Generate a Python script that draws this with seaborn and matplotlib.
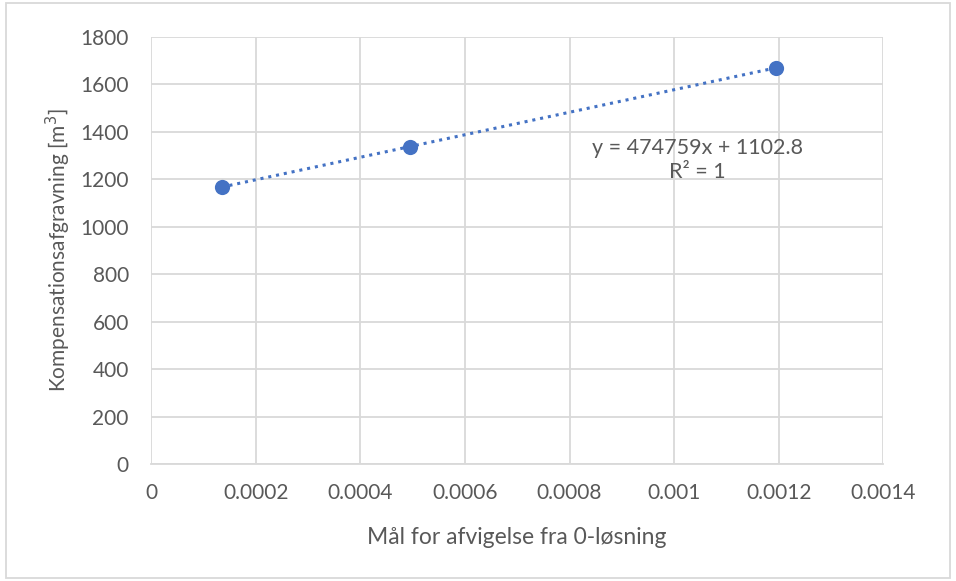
import numpy as np
import pandas as pd
import matplotlib
matplotlib.use("Agg")
import matplotlib.pyplot as plt
import seaborn as sns

# Data
afvigelse = [0.000135, 0.000495, 0.001195]
kompensation = [1167, 1338, 1670]
x_ticks = [0, 0.0002, 0.0004, 0.0006, 0.0008, 0.001, 0.0012, 0.0014]
x_tick_labels = ["0", "0.0002", "0.0004", "0.0006", "0.0008", "0.001", "0.0012", "0.0014"]
y_ticks = [0, 200, 400, 600, 800, 1000, 1200, 1400, 1600, 1800]

df = pd.DataFrame({"x": afvigelse, "y": kompensation})

sns.set_theme(style="whitegrid")
plt.rcParams["font.family"] = ["Lato", "DejaVu Sans"]

blue = "#4472C4"
grid_col = "#D9D9D9"
text_col = "#595959"

fig = plt.figure(figsize=(9.56, 5.81), dpi=100)
ax = fig.add_axes([0.158, 0.2014, 0.766, 0.735])

sns.regplot(data=df, x="x", y="y", ax=ax, ci=None, truncate=True,
            scatter_kws={"s": 120, "color": blue, "alpha": 1, "zorder": 4, "linewidths": 0},
            line_kws={"color": blue, "linestyle": (0, (1, 1.6)), "linewidth": 2.2, "zorder": 3})

ax.set_xlim(0, 0.0014)
ax.set_ylim(0, 1800)
ax.set_xticks(x_ticks)
ax.set_xticklabels(x_tick_labels)
ax.set_yticks(y_ticks)
ax.tick_params(axis="both", labelsize=15, colors=text_col, length=0)
ax.tick_params(axis="x", pad=14)
ax.tick_params(axis="y", pad=16)
ax.grid(True, color=grid_col, linewidth=1.3)
for side in ["top", "right", "left"]:
    ax.spines[side].set_visible(False)
ax.spines["bottom"].set_color(grid_col)
ax.spines["bottom"].set_linewidth(1.3)

ax.set_xlabel("Mål for afvigelse fra 0-løsning", fontsize=16.5, color=text_col, labelpad=17)
ax.set_ylabel("Kompensationsafgravning [m$^3$]", fontsize=15, color=text_col, labelpad=5)

ax.text(0.001044, 1332, "y = 474759x + 1102.8", ha="center", va="center",
        fontsize=15.5, color=text_col)
ax.text(0.001044, 1232, "R² = 1", ha="center", va="center",
        fontsize=15.5, color=text_col)

# light frame around the chart area
fig.patches.append(plt.Rectangle((0.006, 0.006), 0.988, 0.988, transform=fig.transFigure,
                                 fill=False, edgecolor="#D9D9D9", linewidth=1.3))

fig.savefig("out.png", dpi=100)
